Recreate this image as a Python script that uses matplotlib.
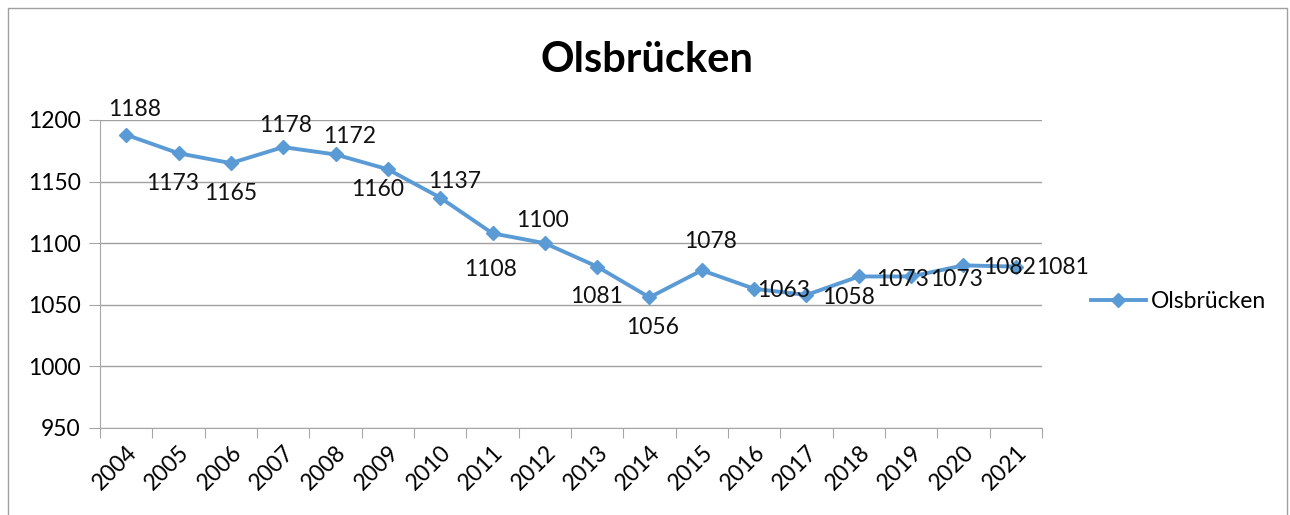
import matplotlib.pyplot as plt
from matplotlib.patches import Rectangle

plt.rcParams['font.family'] = ['Lato', 'DejaVu Sans']

# data
years = ['2004', '2005', '2006', '2007', '2008', '2009', '2010', '2011', '2012',
         '2013', '2014', '2015', '2016', '2017', '2018', '2019', '2020', '2021']
einwohner = [1188, 1173, 1165, 1178, 1172, 1160, 1137, 1108, 1100,
             1081, 1056, 1078, 1063, 1058, 1073, 1073, 1082, 1081]
series_name = 'Olsbrücken'

# label offsets in pixels (dx, dy) like the Excel layout
label_off = [(8, 25), (-6, -30), (0, -30), (2, 22), (14, 18), (-10, -20),
             (14, 16), (-2, -36), (-2, 23), (-1, -30), (3, -30), (9, 29),
             (29, -2), (42, -3), (44, -3), (45, -3), (46, -2), (47, -1)]

blue = '#5B9BD5'
fs = 16.5

fig = plt.figure(figsize=(12.9, 5.15), dpi=100)
ax = fig.add_axes([100 / 1290, 87 / 515, 942 / 1290, 308 / 515])

x = list(range(len(years)))
ax.plot(x, einwohner, color=blue, lw=2.8, marker='D', ms=7, label=series_name)

for xi, v, (dx, dy) in zip(x, einwohner, label_off):
    ax.annotate(str(v), (xi, v), xytext=(dx, dy), textcoords='offset pixels',
                ha='center', va='center', fontsize=fs, color='#111111')

ax.set_xlim(-0.5, len(years) - 0.5)
ax.set_ylim(950, 1200)
ax.set_yticks(range(950, 1201, 50))
ax.set_xticks([i - 0.5 for i in range(len(years) + 1)])
ax.set_xticklabels([])
ax.set_xticks(x, minor=True)
ax.set_xticklabels(years, minor=True, rotation=45, ha='right',
                   rotation_mode='anchor', fontsize=fs)
ax.tick_params(axis='x', which='minor', length=0, pad=10)
ax.tick_params(axis='x', which='major', length=7, color='#A6A6A6')
ax.tick_params(axis='y', length=8, color='#A6A6A6', labelsize=fs, pad=6)

ax.grid(axis='y', color='#A0A0A0', lw=1)
ax.set_axisbelow(True)
for s in ['top', 'right']:
    ax.spines[s].set_visible(False)
for s in ['left', 'bottom']:
    ax.spines[s].set_color('#A6A6A6')

fig.text(647 / 1290, 1 - 60 / 515, series_name, ha='center', va='center',
         fontsize=30, fontweight='bold')

ax.legend(loc='center left', bbox_to_anchor=(1.03, 0.41), frameon=False,
          fontsize=fs, handlelength=2.4, handletextpad=0.2)

fig.patches.append(Rectangle((8 / 1290, -0.01), 1279 / 1290, 1 - 8 / 515 + 0.01,
                             transform=fig.transFigure, fill=False,
                             edgecolor='#A0A0A0', lw=1))

fig.savefig('out.png', dpi=100)
